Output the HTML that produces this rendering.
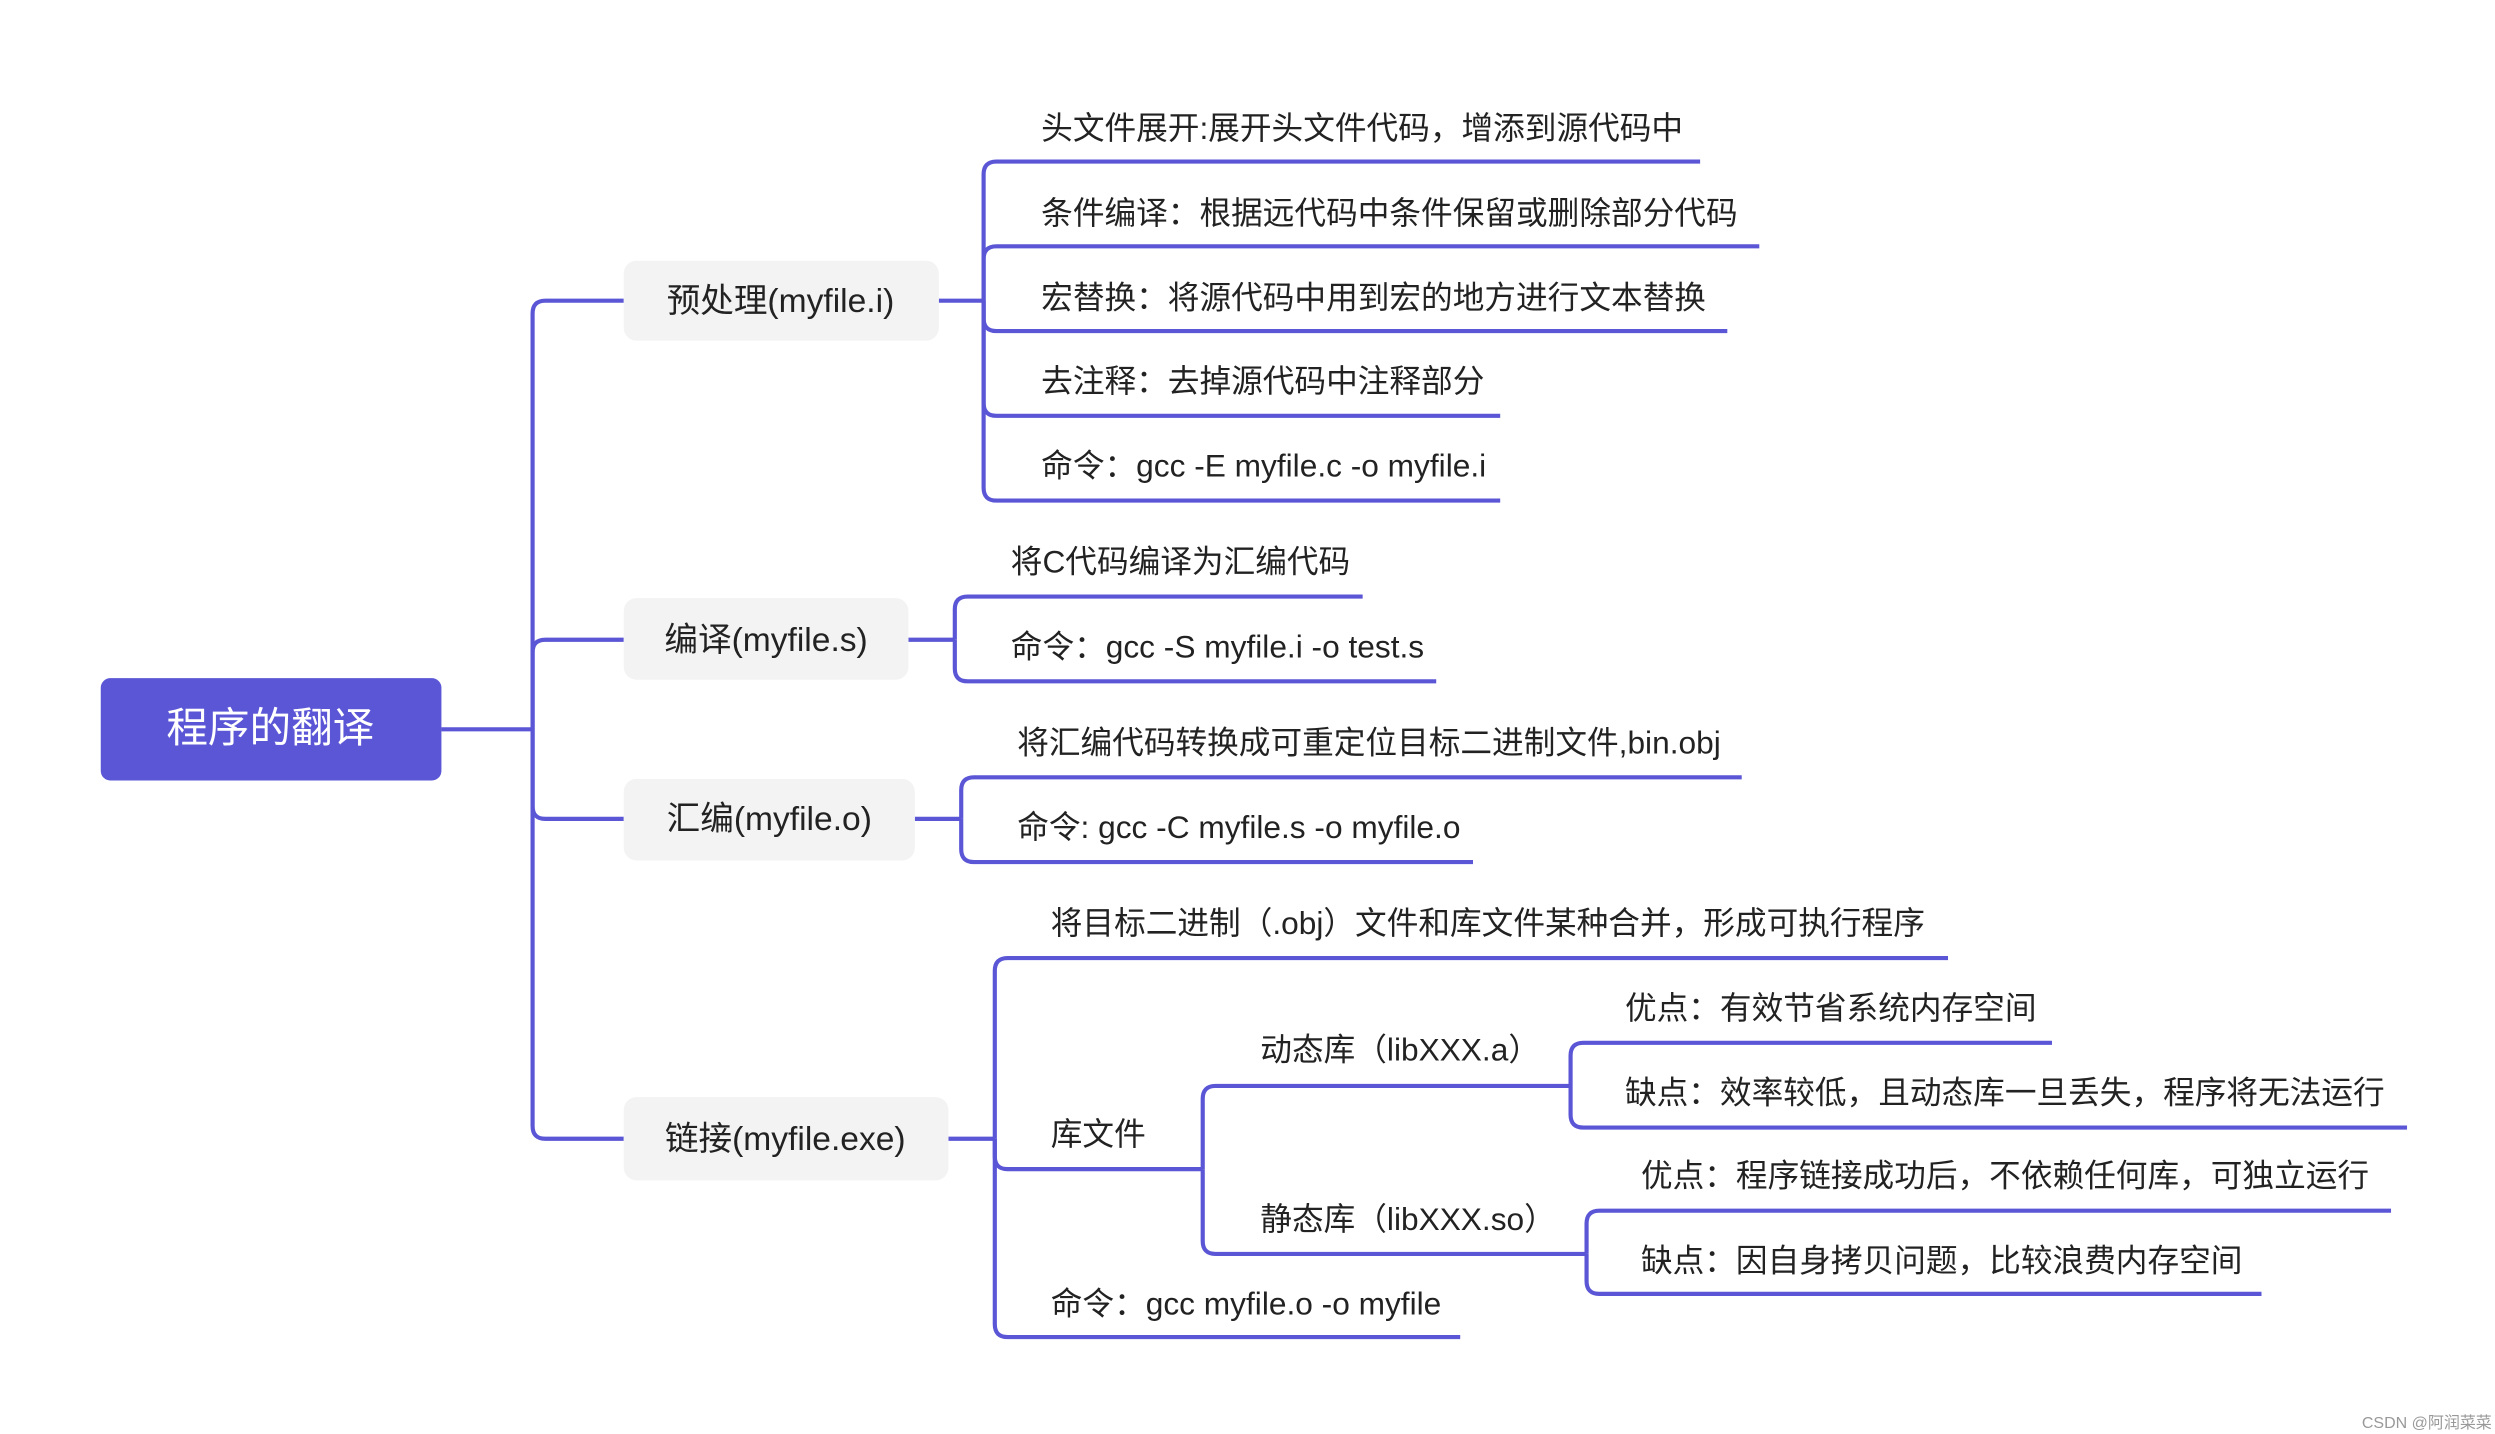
<!DOCTYPE html>
<html><head><meta charset="utf-8"><style>
html,body{margin:0;padding:0;background:#fff;}
svg{display:block;}
text{font-family:"Liberation Sans","Noto Sans CJK SC",sans-serif;fill:#222;}
</style></head><body>
<svg width="2495" height="1434" viewBox="0 0 1560 896.6" xmlns="http://www.w3.org/2000/svg">
<g fill="none" stroke="#5a56d6" stroke-width="2.6">
<path d="M276,456 H333"/>
<path d="M333,456 V196 Q333,188 341,188 H390"/>
<path d="M333,456 V408 Q333,400 341,400 H390"/>
<path d="M333,456 V504 Q333,512 341,512 H390"/>
<path d="M333,456 V704 Q333,712 341,712 H390"/>
<path d="M587,188 H615"/>
<path d="M615,188 V109 Q615,101 623,101 H1063"/>
<path d="M615,188 V162 Q615,154 623,154 H1100"/>
<path d="M615,188 V199 Q615,207 623,207 H1080"/>
<path d="M615,188 V252 Q615,260 623,260 H938"/>
<path d="M615,188 V305 Q615,313 623,313 H938"/>
<path d="M568,400 H597"/>
<path d="M597,400 V381 Q597,373 605,373 H852"/>
<path d="M597,400 V418 Q597,426 605,426 H898"/>
<path d="M572,512 H601"/>
<path d="M601,512 V494 Q601,486 609,486 H1089"/>
<path d="M601,512 V531 Q601,539 609,539 H921"/>
<path d="M593,712 H622"/>
<path d="M622,712 V607 Q622,599 630,599 H1218"/>
<path d="M622,712 V723 Q622,731 630,731 H752"/>
<path d="M622,712 V828 Q622,836 630,836 H913"/>
<path d="M752,731 V687 Q752,679 760,679 H982"/>
<path d="M752,731 V776 Q752,784 760,784 H992"/>
<path d="M982,679 V660 Q982,652 990,652 H1283"/>
<path d="M982,679 V697 Q982,705 990,705 H1505"/>
<path d="M992,784 V765 Q992,757 1000,757 H1495"/>
<path d="M992,784 V801 Q992,809 1000,809 H1414"/>
</g>
<rect x="63" y="424" width="213" height="64" rx="6" fill="#5a56d6"/>
<text x="169" y="464" font-size="26" text-anchor="middle" style="fill:#fff">程序的翻译</text>
<g fill="#f3f3f3">
<rect x="390" y="163" width="197" height="50" rx="8"/>
<rect x="390" y="374" width="178" height="51" rx="8"/>
<rect x="390" y="487" width="182" height="51" rx="8"/>
<rect x="390" y="686" width="203" height="52" rx="8"/>
</g>
<g font-size="21" text-anchor="middle">
<text x="488" y="195">预处理(myfile.i)</text>
<text x="479" y="407">编译(myfile.s)</text>
<text x="481" y="519">汇编(myfile.o)</text>
<text x="491" y="719">链接(myfile.exe)</text>
</g>
<g font-size="19.8">
<text x="651" y="87">头文件展开:展开头文件代码，增添到源代码中</text>
<text x="651" y="140">条件编译：根据远代码中条件保留或删除部分代码</text>
<text x="651" y="193">宏替换：将源代码中用到宏的地方进行文本替换</text>
<text x="651" y="245">去注释：去掉源代码中注释部分</text>
<text x="651" y="298">命令：gcc -E myfile.c -o myfile.i</text>
<text x="632" y="358">将C代码编译为汇编代码</text>
<text x="632" y="411">命令：gcc -S myfile.i -o test.s</text>
<text x="636" y="471">将汇编代码转换成可重定位目标二进制文件,bin.obj</text>
<text x="636" y="524">命令: gcc -C myfile.s -o myfile.o</text>
<text x="657" y="584">将目标二进制（.obj）文件和库文件某种合并，形成可执行程序</text>
<text x="657" y="716">库文件</text>
<text x="657" y="822">命令：gcc myfile.o -o myfile</text>
<text x="788" y="663">动态库（libXXX.a）</text>
<text x="788" y="769">静态库（libXXX.so）</text>
<text x="1016" y="637">优点：有效节省系统内存空间</text>
<text x="1016" y="690">缺点：效率较低，且动态库一旦丢失，程序将无法运行</text>
<text x="1026" y="742">优点：程序链接成功后，不依赖任何库，可独立运行</text>
<text x="1026" y="795">缺点：因自身拷贝问题，比较浪费内存空间</text>
</g>
<text x="1558" y="893" font-size="10" text-anchor="end" style="fill:#999">CSDN @阿润菜菜</text>
</svg>
</body></html>
